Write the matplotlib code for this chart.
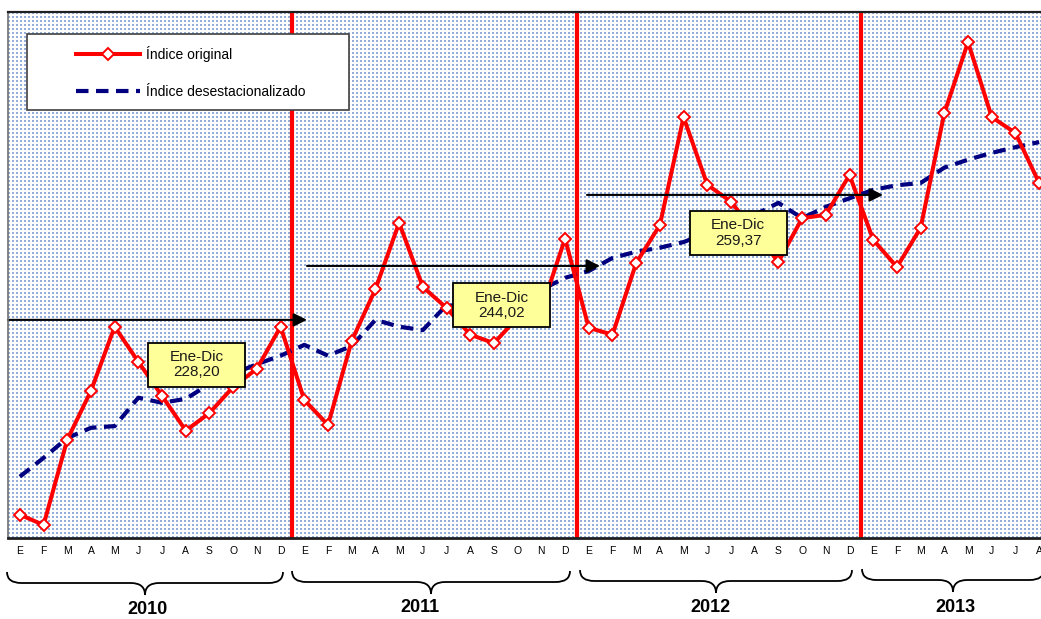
import numpy as np
import matplotlib
matplotlib.use('Agg')
import matplotlib.pyplot as plt
from matplotlib.patches import Rectangle, PathPatch
from matplotlib.path import Path

# ---------------- data ----------------
years = ['2010', '2011', '2012', '2013']
month_labels = ['E', 'F', 'M', 'A', 'M', 'J', 'J', 'A', 'S', 'O', 'N', 'D']
n_months = 44  # Jan 2010 .. Aug 2013

indice_original = [
    209.2, 207.4, 222.4, 231.0, 242.3, 236.1, 230.1, 224.0, 227.1, 231.7, 234.9, 242.3,
    229.4, 225.0, 239.8, 248.9, 260.6, 249.3, 245.6, 240.9, 239.4, 243.9, 245.3, 257.8,
    242.1, 240.9, 253.5, 260.2, 279.2, 267.3, 264.3, 259.0, 253.7, 261.4, 262.0, 269.0,
    257.6, 252.8, 259.7, 279.9, 292.4, 279.2, 276.4, 267.6,
]
indice_desest = [
    215.9, 219.2, 222.7, 224.5, 224.8, 229.8, 228.9, 229.6, 232.2, 234.0, 235.7, 237.2,
    239.1, 237.2, 238.9, 243.5, 242.3, 241.7, 246.1, 245.8, 246.5, 247.4, 248.8, 250.9,
    252.1, 254.4, 255.5, 256.2, 257.2, 258.8, 260.2, 262.0, 264.1, 261.4, 263.4, 264.9,
    266.4, 267.2, 267.6, 270.3, 271.7, 272.9, 273.9, 274.8,
]
promedio_labels = ['228,20', '244,02', '259,37']
arrow_levels = [243.5, 253.0, 265.5]

# ---------------- figure ----------------
W, H = 1041, 619
DPI = 100
fig = plt.figure(figsize=(W / DPI, H / DPI), dpi=DPI, facecolor='white')

NARROW = ['Liberation Sans Narrow', 'Liberation Sans', 'DejaVu Sans']

# the plotting area runs past the right edge of the picture
ax_l, ax_r, ax_t, ax_b = 8, 1051, 12, 538
YMIN, YMAX = 205.1, 297.7
ax = fig.add_axes([ax_l / W, 1 - ax_b / H, (ax_r - ax_l) / W, (ax_b - ax_t) / H])
ax.set_xlim(-0.5, n_months - 0.5)
ax.set_ylim(YMIN, YMAX)
ppm = (ax_r - ax_l) / n_months  # pixels per month


def fx(px):
    return (px - ax_l) / (ax_r - ax_l)


def fy(py):
    return (ax_b - py) / (ax_b - ax_t)


def mx(px):
    return (px - ax_l) / ppm - 0.5


# dotted background pattern
pw, ph = ax_r - ax_l, ax_b - ax_t
rr, cc = np.mgrid[0:ph, 0:pw]
mask = ((rr % 4) < 2) & ((cc % 4) < 2)
img = np.ones((ph, pw, 3))
dot = np.array([150, 175, 218]) / 255.0
img[mask] = dot
ax.imshow(img, extent=(-0.5, n_months - 0.5, YMIN, YMAX), aspect='auto',
          interpolation='nearest', zorder=0)

x = np.arange(n_months)

# year separators
for k in range(1, len(years)):
    ax.axvline(12 * k - 0.5, color='#FF0000', lw=3.0, zorder=2)

# series
blue_line, = ax.plot(x, indice_desest, color='#000080', lw=3.0, dashes=(3.0, 1.8),
                     dash_capstyle='butt', zorder=3, label='Índice desestacionalizado')
red_line, = ax.plot(x, indice_original, color='#FF0000', lw=2.9, marker='D', markersize=6.2,
                    markerfacecolor='white', markeredgecolor='#FF0000', markeredgewidth=1.4,
                    zorder=4, label='Índice original')

# arrows (annual averages illustration)
arrow_spans = [(mx(8), mx(307)), (mx(307), mx(600)), (mx(587), mx(883))]
for (x0, x1), yv in zip(arrow_spans, arrow_levels):
    ax.annotate('', xy=(x1, yv), xytext=(x0, yv),
                arrowprops=dict(arrowstyle='-|>', color='black', lw=1.5,
                                mutation_scale=20, shrinkA=0, shrinkB=0),
                zorder=5, annotation_clip=False)

# annotation boxes
box_centers = [(mx(196.5), 235.6), (mx(501.5), 246.1), (mx(738), 258.8)]
bw = 97 / ppm
bh = 44 * (YMAX - YMIN) / (ax_b - ax_t)
for (cx, cy), lab in zip(box_centers, promedio_labels):
    ax.add_patch(Rectangle((cx - bw / 2, cy - bh / 2), bw, bh, facecolor='#FFFF99',
                           edgecolor='black', lw=1.3, zorder=6))
    ax.text(cx, cy, 'Ene-Dic\n' + lab, ha='center', va='center', fontsize=11,
            family=NARROW, color='#1a1a1a', linespacing=1.1, zorder=7)

# legend with its own frame
ax.add_patch(Rectangle((fx(27), fy(110)), fx(349) - fx(27), fy(34) - fy(110),
                       transform=ax.transAxes, facecolor='white', edgecolor='#404040',
                       lw=1.2, zorder=8))
leg = ax.legend(handles=[red_line, blue_line], frameon=False, loc='center left',
                bbox_to_anchor=(fx(76), fy(72.5)), borderpad=0, borderaxespad=0,
                handlelength=4.6, handletextpad=0.45, labelspacing=1.62,
                prop={'family': NARROW, 'size': 10})
leg.set_zorder(9)

# spines / ticks
ax.spines['right'].set_visible(False)
ax.spines['top'].set_color('#202020')
ax.spines['top'].set_linewidth(1.6)
ax.spines['bottom'].set_color('#202020')
ax.spines['bottom'].set_linewidth(2.0)
ax.spines['left'].set_color('#707070')
ax.spines['left'].set_linewidth(1.2)
for s in ax.spines.values():
    s.set_zorder(10)
ax.set_yticks([])
ax.set_xticks(x)
ax.set_xticklabels([month_labels[i % 12] for i in x], fontsize=7.5, family=NARROW)
ax.tick_params(axis='x', length=0, pad=6)

# braces and year labels
ax2 = fig.add_axes([ax_l / W, 0, (ax_r - ax_l) / W, 60 / H])
ax2.set_xlim(-0.5, n_months - 0.5)
ax2.set_ylim(619, 559)
ax2.axis('off')

brace_spans = [(mx(7), mx(283)), (mx(292), mx(570)), (mx(580), mx(852)), (mx(862), mx(1044))]
brace_tops = [572, 571, 570, 569]
year_x = [mx(147), mx(420), mx(710), mx(955)]
year_y = [610, 607, 607, 607]
r = 0.6
for (x0, x1), yt in zip(brace_spans, brace_tops):
    yl = yt + 11
    yb = yt + 23
    xc = (x0 + x1) / 2
    verts = [(x0, yt), (x0, yl), (x0 + r, yl), (xc - r, yl), (xc, yl), (xc, yb),
             (xc, yl), (xc + r, yl), (x1 - r, yl), (x1, yl), (x1, yt)]
    codes = [Path.MOVETO, Path.CURVE3, Path.CURVE3, Path.LINETO, Path.CURVE3, Path.CURVE3,
             Path.CURVE3, Path.CURVE3, Path.LINETO, Path.CURVE3, Path.CURVE3]
    ax2.add_patch(PathPatch(Path(verts, codes), facecolor='none', edgecolor='black',
                            lw=1.3, clip_on=False))
for yr, xx, yy in zip(years, year_x, year_y):
    ax2.text(xx, yy, yr, ha='center', va='center', fontsize=13, fontweight='bold',
             family=NARROW, clip_on=False)

fig.savefig('out.png', dpi=DPI, facecolor='white')
